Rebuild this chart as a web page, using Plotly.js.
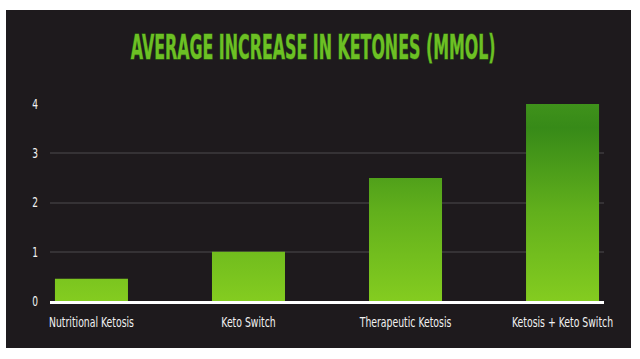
<!DOCTYPE html>
<html>
<head>
<meta charset="utf-8">
<script src="https://cdn.plot.ly/plotly-3.0.1.min.js"></script>
<style>
  html, body { margin: 0; padding: 0; background: #ffffff; width: 640px; height: 359px; overflow: hidden; }
  #chart { position: absolute; left: 6px; top: 10px; width: 625px; height: 338px; }
</style>
</head>
<body>
<div id="chart"></div>
<script>
const categories = ["Nutritional Ketosis", "Keto Switch", "Therapeutic Ketosis", "Ketosis + Keto Switch"];
const ketoneIncrease = [0.45, 1.0, 2.5, 4.0];
const yTickValues = [0, 1, 2, 3, 4];
const chartTitle = "AVERAGE INCREASE IN KETONES (MMOL)";

const bg = "#1e1a1d";
const fam = "DejaVu Sans Condensed, DejaVu Sans, sans-serif";
const labelFont = { family: fam, size: 14, color: "#f2f2f2" };

const trace = {
  type: "bar",
  x: categories,
  y: ketoneIncrease,
  marker: { color: "#6cb81e", line: { width: 0 } },
  hoverinfo: "none"
};

const layout = {
  width: 625, height: 338,
  paper_bgcolor: bg,
  plot_bgcolor: bg,
  margin: { l: 44, r: 27, t: 94, b: 47, pad: 0 },
  bargap: 0.535,
  showlegend: false,
  title: {
    text: chartTitle,
    font: { family: fam, size: 33, color: "#6cc024", weight: 700 },
    x: 0.4915, xref: "container", xanchor: "center",
    y: 0.8905, yref: "container", yanchor: "middle"
  },
  xaxis: {
    type: "category",
    range: [-0.264, 3.264],
    showgrid: false,
    zeroline: false,
    showline: true, linecolor: "#ffffff", linewidth: 3,
    ticks: "",
    ticklabelstandoff: 6,
    tickfont: labelFont,
    fixedrange: true
  },
  yaxis: {
    range: [0, 4],
    tickvals: yTickValues,
    ticktext: yTickValues.map(String),
    showgrid: true, gridcolor: "#353235", gridwidth: 2,
    zeroline: false,
    showline: false,
    ticks: "",
    ticklabelstandoff: 11,
    tickfont: labelFont,
    fixedrange: true
  }
};

Plotly.newPlot("chart", [trace], layout, { staticPlot: true, displayModeBar: false }).then(function (gd) {
  const svg = gd.querySelector("svg.main-svg");
  const ya = gd._fullLayout.yaxis;
  const ns = "http://www.w3.org/2000/svg";
  const defs = svg.querySelector("defs");
  const grad = document.createElementNS(ns, "linearGradient");
  grad.setAttribute("id", "ketoGrad");
  grad.setAttribute("gradientUnits", "userSpaceOnUse");
  grad.setAttribute("x1", "0"); grad.setAttribute("x2", "0");
  grad.setAttribute("y1", String(ya.l2p(0)));
  grad.setAttribute("y2", String(ya.l2p(4)));
  [["0", "#84cc20"], ["0.45", "#62b01c"], ["0.88", "#378a18"], ["1", "#3f921b"]].forEach(function (s) {
    const st = document.createElementNS(ns, "stop");
    st.setAttribute("offset", s[0]);
    st.setAttribute("stop-color", s[1]);
    grad.appendChild(st);
  });
  defs.appendChild(grad);
  gd.querySelectorAll(".bars path").forEach(function (p) {
    p.style.fill = "url(#ketoGrad)";
  });

  // condense text horizontally about its anchor point (reference uses a condensed typeface)
  function condense(el, s) {
    const x = parseFloat(el.getAttribute("x") || "0");
    const prev = el.getAttribute("transform") || "";
    el.setAttribute("transform", prev + " translate(" + x + ",0) scale(" + s + ",1) translate(" + (-x) + ",0)");
  }
  gd.querySelectorAll(".xtick text").forEach(function (t) { condense(t, 0.74); });
  gd.querySelectorAll(".ytick text").forEach(function (t) { condense(t, 0.72); });

  const t = gd.querySelector(".gtitle");
  if (t) {
    const w = t.getComputedTextLength();
    condense(t, 365 / w);
    t.style.stroke = "#2c5a10";
    t.style.strokeWidth = "1.3px";
    t.style.paintOrder = "stroke";
  }
});
</script>
</body>
</html>
